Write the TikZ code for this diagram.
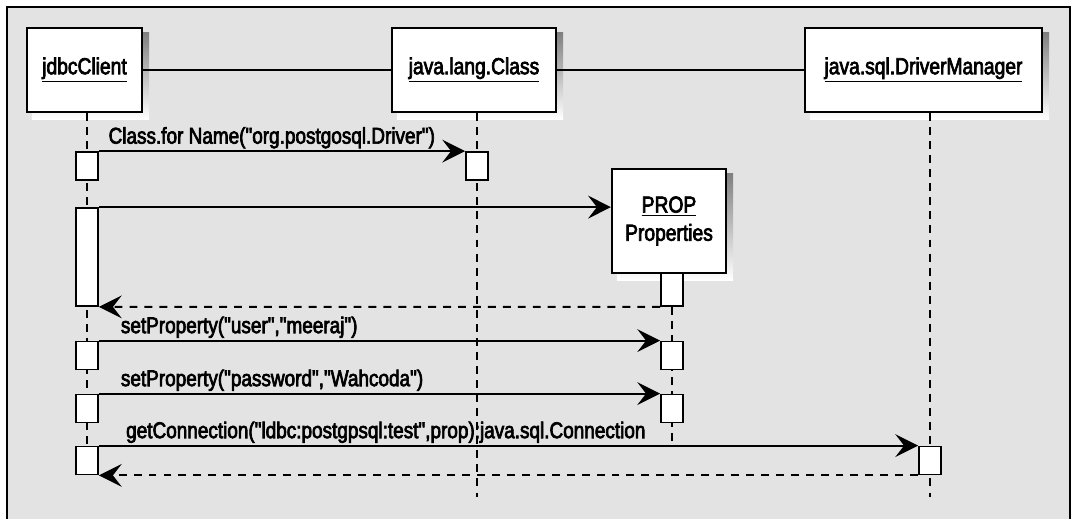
\documentclass[tikz,border=0pt]{standalone}
\usepackage{fontspec}
\setmainfont{Liberation Sans}[FakeStretch=0.83, FakeBold=3, Ligatures=TeXOff]
\usetikzlibrary{positioning,arrows.meta,backgrounds,calc}
\definecolor{panel}{HTML}{E3E3E3}
\definecolor{shade}{HTML}{808080}
\begin{document}
\begin{tikzpicture}[x=0.02cm, y=-0.02cm,
    obj/.style={draw, fill=white, line width=1.2pt, inner sep=0, font=\fontsize{13.2}{16}\selectfont},
    act/.style={draw, fill=white, line width=1pt, inner sep=0, minimum width=0.44cm, minimum height=0.56cm},
    lifeline/.style={line width=1.3pt, dash pattern=on 4.5pt off 3.5pt},
    msg/.style={line width=1.1pt, -{Stealth[length=13pt,width=13pt,inset=5pt]}},
    ret/.style={msg, dash pattern=on 4.5pt off 4pt},
    lbl/.style={font=\fontsize{13}{15}\selectfont, inner sep=1pt, anchor=south west}]
    \useasboundingbox (0,0) rectangle (1071,519);
    % objects
    \node[obj, minimum width=2.3cm, minimum height=1.68cm] (jdbc) at (84.5,70) {\underline{jdbcClient}};
    \node[obj, minimum width=3.28cm, minimum height=1.68cm] (cls) at (474,70) {\underline{java.lang.Class}};
    \node[obj, minimum width=4.74cm, minimum height=1.68cm] (dm) at (923.5,70) {\underline{java.sql.DriverManager}};
    \node[obj, minimum width=2.28cm, minimum height=2.08cm, align=center] (prop) at (669,221) {\underline{PROP}\\Properties};
    \draw[line width=1.2pt] (jdbc) -- (cls);
    \draw[line width=1.2pt] (cls) -- (dm);
    % activations
    \node[act] (a1) at (87,166) {};
    \node[act] (c1) at (477,166) {};
    \node[act, minimum height=1.96cm] (a2) at (87,257) {};
    \node[act, minimum height=0.66cm] (p0) at (672,289.5) {};
    \node[act] (a3) at (87,355.5) {};
    \node[act] (p1) at (672,355.5) {};
    \node[act] (a4) at (87,408.5) {};
    \node[act] (p2) at (672,408.5) {};
    \node[act] (a5) at (87,460.5) {};
    \node[act] (d1) at (930,460.5) {};
    \coordinate (clsend) at (477,497);
    \coordinate (dmend) at (930,497);
    % frame, shadows and lifelines
    \begin{scope}[on background layer]
        \draw[line width=1.6pt, fill=panel] (7,7) rectangle (1070,540);
        \foreach \obj in {jdbc, cls, dm, prop} {
            \fill[shade] ($(\obj.south west)+(3.4pt,-3.4pt)$) rectangle ($(\obj.north east)+(3.4pt,-3.4pt)$);
        }
        \draw[lifeline] (jdbc.south -| a1) -- (a5.south);
        \draw[lifeline] (cls.south -| c1) -- (clsend);
        \draw[lifeline] (p0.south) -- (p0 |- a5.north);
        \draw[lifeline] (dm.south -| d1) -- (dmend);
    \end{scope}
    % messages
    \draw[msg] (a1.north east) -- (c1.north west) node[lbl, pos=0, xshift=4] {Class.for Name("org.postgosql.Driver")};
    \draw[msg] (a2.north east) -- (a2.north east -| prop.west);
    \draw[ret] (p0.south west) -- (a2.south east);
    \draw[msg] (a3.north east) -- (p1.north west) node[lbl, pos=0, xshift=11] {setProperty("user","meeraj")};
    \draw[msg] (a4.north east) -- (p2.north west) node[lbl, pos=0, xshift=11] {setProperty("password","Wahcoda")};
    \draw[msg] (a5.north east) -- (d1.north west) node[lbl, pos=0, xshift=14] {getConnection("ldbc:postgpsql:test",prop):java.sql.Connection};
    \draw[ret] (d1.south west) -- (a5.south east);
\end{tikzpicture}
\end{document}
